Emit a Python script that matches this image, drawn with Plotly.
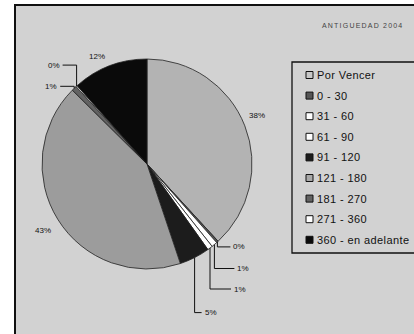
import math
import plotly.graph_objects as go

# ---- data ----
categories = ["Por Vencer", "0 - 30", "31 - 60", "61 - 90", "91 - 120",
              "121 - 180", "181 - 270", "271 - 360", "360 - en adelante"]
values = [38.2, 0.3, 0.9, 0.8, 4.7, 42.6, 0.8, 0.2, 11.6]
colors = ["#b3b3b3", "#555555", "#ffffff", "#ffffff", "#1c1c1c",
          "#9c9c9c", "#626262", "#ffffff", "#0a0a0a"]
legend_colors = ["#c8c8c8", "#555555", "#ffffff", "#ffffff", "#1c1c1c",
                 "#a8a8a8", "#626262", "#ffffff", "#0a0a0a"]
title_text = "ANTIGUEDAD 2004"

# ---- layout / style ----
W, H = 414, 334
CX, CY, R = 147, 164, 105
BG = "#d2d2d2"
FONT = "Liberation Sans, Arial, sans-serif"

label_style = [
    ("radial", 1.12, 0, -6),
    ("leader", 14, 5, "left"),
    ("leader", 21, 24, "left"),
    ("leader", 22, 41, "left"),
    ("leader", 8, 55, "left"),
    ("radial", 1.12, -4, 4),
    ("leader", -15, -2, "right"),
    ("leader", -15, -21, "right"),
    ("radial", 1.12, -8, 2),
]

fig = go.Figure()

fig.add_trace(go.Pie(
    labels=categories, values=values, sort=False, direction="clockwise",
    rotation=0, textinfo="none", showlegend=False, hoverinfo="label+percent",
    marker=dict(colors=colors, line=dict(color="#222222", width=0.8)),
    domain=dict(x=[(CX - R) / W, (CX + R) / W],
                y=[(H - CY - R) / H, (H - CY + R) / H]),
))

fig.add_trace(go.Scatter(x=[0, W], y=[0, H], mode="markers",
                         marker=dict(opacity=0), hoverinfo="skip",
                         showlegend=False))

shapes = []
annotations = []

shapes.append(dict(type="rect", xref="x", yref="y", x0=15, y0=5, x1=W + 20,
                   y1=H + 20, fillcolor=BG, line=dict(color="#111111", width=2),
                   layer="below"))

total = sum(values)
cum = 0.0
for i, v in enumerate(values):
    a0 = cum / total * 360
    cum += v
    a1 = cum / total * 360
    mid = math.radians((a0 + a1) / 2)
    pct = f"{round(v / total * 100):.0f}%"
    st = label_style[i]
    if st[0] == "radial":
        f, ox, oy = st[1], st[2], st[3]
        lx = CX + f * R * math.sin(mid) + ox
        ly = CY - f * R * math.cos(mid) + oy
        annotations.append(dict(x=lx, y=ly, xref="x", yref="y", text=pct,
                                showarrow=False, xanchor="center",
                                yanchor="middle",
                                font=dict(size=8, color="#111111", family=FONT)))
    else:
        dx, dy, side = st[1], st[2], st[3]
        rx = CX + R * math.sin(mid)
        ry = CY - R * math.cos(mid)
        lx, ly = rx + dx, ry + dy
        end_x = lx - 1 if side == "left" else lx + 1
        shapes.append(dict(type="path", xref="x", yref="y",
                           path=f"M{rx:.1f},{ry:.1f} L{rx:.1f},{ly:.1f} L{end_x:.1f},{ly:.1f}",
                           line=dict(color="#111111", width=1)))
        annotations.append(dict(x=lx, y=ly, xref="x", yref="y", text=pct,
                                showarrow=False, xanchor=side, yanchor="middle",
                                font=dict(size=8, color="#111111", family=FONT)))

LX0, LY0, LY1 = 292, 62, 253
shapes.append(dict(type="rect", xref="x", yref="y", x0=LX0, y0=LY0, x1=W + 10,
                   y1=LY1, line=dict(color="#111111", width=1.3),
                   fillcolor="rgba(0,0,0,0)"))
row0, step = 75, 20.6
for i, name in enumerate(categories):
    yc = row0 + i * step
    shapes.append(dict(type="rect", xref="x", yref="y", x0=306, x1=313,
                       y0=yc - 3.5, y1=yc + 3.5, fillcolor=legend_colors[i],
                       line=dict(color="#111111", width=1)))
    annotations.append(dict(x=314.5, y=yc, xref="x", yref="y",
                            text=f'<span style="letter-spacing:0.4px">{name}</span>',
                            showarrow=False, xanchor="left", yanchor="middle",
                            font=dict(size=11, color="#111111", family=FONT)))

annotations.append(dict(x=362, y=25, xref="x", yref="y",
                        text=f'<span style="letter-spacing:1.2px">{title_text}</span>',
                        showarrow=False, xanchor="center", yanchor="middle",
                        font=dict(size=7, color="#444444", family=FONT)))

fig.update_layout(
    width=W, height=H, margin=dict(l=0, r=0, t=0, b=0),
    paper_bgcolor="white", plot_bgcolor="rgba(0,0,0,0)",
    xaxis=dict(range=[0, W], visible=False, fixedrange=True, domain=[0, 1]),
    yaxis=dict(range=[H, 0], visible=False, fixedrange=True, domain=[0, 1]),
    shapes=shapes, annotations=annotations, showlegend=False,
)

fig.write_html("out.html")
